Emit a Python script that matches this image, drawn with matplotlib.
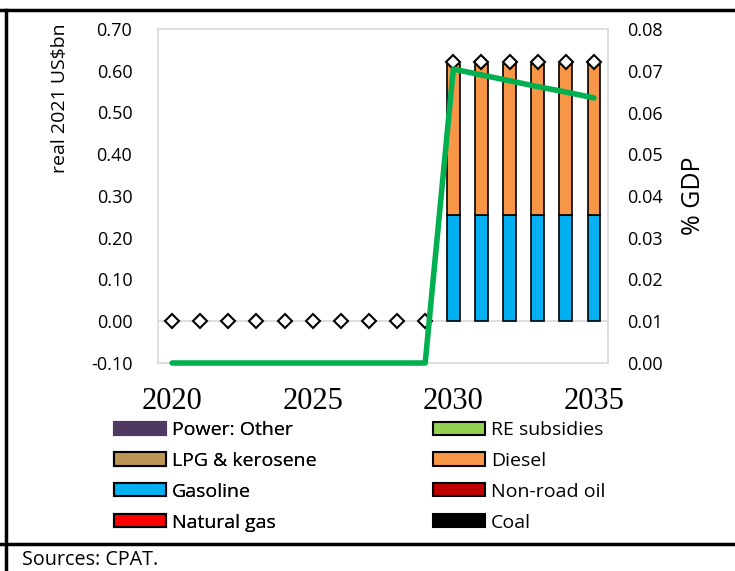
import matplotlib.pyplot as plt
from matplotlib.patches import Patch
from matplotlib.lines import Line2D
import numpy as np

years = list(range(2020, 2036))

# stacked components (real 2021 US$bn)
gasoline = [0, 0, 0, 0, 0, 0, 0, 0, 0, 0, 0.255, 0.255, 0.255, 0.255, 0.255, 0.255]
diesel = [0, 0, 0, 0, 0, 0, 0, 0, 0, 0, 0.362, 0.362, 0.362, 0.362, 0.362, 0.362]
total = [0, 0, 0, 0, 0, 0, 0, 0, 0, 0, 0.622, 0.622, 0.622, 0.622, 0.622, 0.622]
# % GDP (right axis)
pct_gdp = [0, 0, 0, 0, 0, 0, 0, 0, 0, 0, 0.0704, 0.0690, 0.0676, 0.0662, 0.0649, 0.0635]

legend_left = ['Power: Other', 'LPG & kerosene', 'Gasoline', 'Natural gas']
colors_left = ['#4F3862', '#BC9455', '#00B0F0', '#FF0000']
edges_left = [False, True, True, True]
legend_right = ['RE subsidies', 'Diesel', 'Non-road oil', 'Coal']
colors_right = ['#92D050', '#F79646', '#C00000', '#000000']
edges_right = [True, True, True, False]

plt.rcParams['font.family'] = ['Open Sans', 'DejaVu Sans']

fig = plt.figure(figsize=(7.35, 5.71), dpi=100)
ax = fig.add_axes([158 / 735, 1 - 363 / 571, 450 / 735, 334 / 571])

w = 0.45
ax.axhline(0, color='#D9D9D9', lw=1.2, zorder=1)
ax.bar(years, gasoline, width=w, color='#00B0F0', edgecolor='black', lw=1.2, zorder=2)
ax.bar(years, diesel, width=w, bottom=gasoline, color='#F79646', edgecolor='black', lw=1.2, zorder=2)
ax.plot(years, total, ls='none', marker='D', ms=7.5, mfc='white', mec='black', mew=1.5, zorder=4)

ax.set_xlim(2019.5, 2035.5)
ax.set_ylim(-0.1, 0.7)
ax.set_yticks(np.arange(-0.1, 0.71, 0.1))
ax.set_yticklabels([f'{v:.2f}' for v in np.arange(-0.1, 0.71, 0.1)])
ax.set_xticks([2020, 2025, 2030, 2035])
ax.set_xticklabels(['2020', '2025', '2030', '2035'], family='Liberation Serif', fontsize=22)
ax.tick_params(axis='both', length=0)
ax.tick_params(axis='y', labelsize=13, pad=18.5)
ax.tick_params(axis='x', pad=17)
for s in ax.spines.values():
    s.set_color('#D9D9D9')
    s.set_linewidth(1.2)
fig.text(60 / 735, 1 - 98 / 571, 'real 2021 US$bn', fontsize=14, rotation=90,
         ha='center', va='center')

# % GDP line sits on top of bars and markers
ax2 = ax.twinx()
ax2.plot(years, pct_gdp, color='#00B050', lw=4, solid_capstyle='round', clip_on=False)
ax2.set_ylim(0, 0.08)
ax2.set_yticks(np.arange(0, 0.081, 0.01))
ax2.set_yticklabels([f'{v:.2f}' for v in np.arange(0, 0.081, 0.01)])
ax2.tick_params(axis='y', length=0, labelsize=13, pad=14)
for s in ax2.spines.values():
    s.set_visible(False)
ax2.set_ylabel('% GDP', fontsize=18, labelpad=13)


def add_legend(names, colors, edges, x):
    handles = [Patch(facecolor=c, edgecolor='black' if e else c, lw=1.5)
               for c, e in zip(colors, edges)]
    leg = fig.legend(handles, names, loc='upper left',
                     bbox_to_anchor=(x / 735, 1 - 421 / 571), frameon=False,
                     fontsize=14, handlelength=2.67, handleheight=0.67, handletextpad=0.3,
                     labelspacing=0.66, borderaxespad=0, borderpad=0)
    return leg


leg1 = add_legend(legend_left, colors_left, edges_left, 114)
add_legend(legend_right, colors_right, edges_right, 433)
fig.add_artist(leg1)

# outer frame lines
fig.add_artist(Line2D([0, 1], [1 - 10 / 571] * 2, color='black', lw=2.5))
fig.add_artist(Line2D([0, 1], [1 - 544 / 571] * 2, color='black', lw=2.5))
fig.add_artist(Line2D([6 / 735] * 2, [0, 1 - 10 / 571], color='black', lw=2.5))
fig.text(22 / 735, 1 - 560 / 571, 'Sources: CPAT.', fontsize=14.2, va='center')

fig.savefig('out.png', dpi=100)
